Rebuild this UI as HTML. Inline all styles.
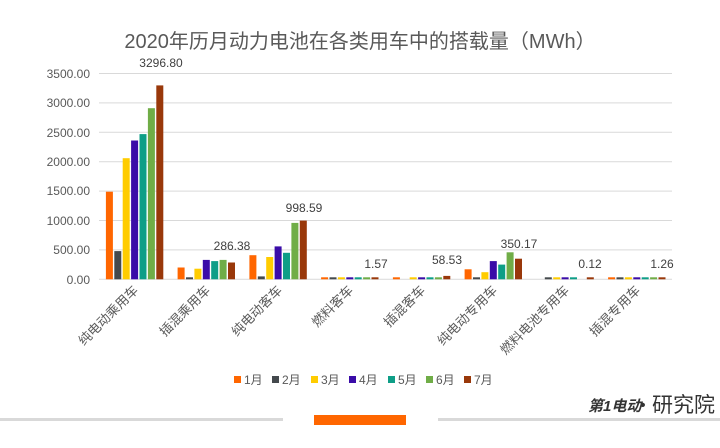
<!DOCTYPE html>
<html><head><meta charset="utf-8"><style>
body{margin:0;background:#fff;}
svg{display:block;font-family:"Liberation Sans","Noto Sans CJK SC",sans-serif;}
</style></head><body>
<svg width="720" height="448" viewBox="0 0 720 448" xmlns="http://www.w3.org/2000/svg">
<text x="360" y="48" text-anchor="middle" font-size="20" fill="#595959">2020年历月动力电池在各类用车中的搭载量（MWh）</text>
<g stroke="#d9d9d9" stroke-width="1">
<line x1="99" x2="672" y1="73.5" y2="73.5"/><line x1="99" x2="672" y1="102.9" y2="102.9"/>
<line x1="99" x2="672" y1="132.3" y2="132.3"/><line x1="99" x2="672" y1="161.7" y2="161.7"/>
<line x1="99" x2="672" y1="191.1" y2="191.1"/><line x1="99" x2="672" y1="220.5" y2="220.5"/>
<line x1="99" x2="672" y1="249.9" y2="249.9"/><line x1="99" x2="672" y1="279.3" y2="279.3"/>
</g>
<g font-size="12" fill="#595959" text-anchor="end">
<text x="90" y="78">3500.00</text><text x="90" y="107">3000.00</text><text x="90" y="137">2500.00</text>
<text x="90" y="166">2000.00</text><text x="90" y="195">1500.00</text><text x="90" y="225">1000.00</text>
<text x="90" y="254">500.00</text><text x="90" y="284">0.00</text>
</g>
<g>
<rect x="105.9" y="191.7" width="7" height="87.6" fill="#FF6600"/>
<rect x="114.3" y="251.1" width="7" height="28.2" fill="#44494D"/>
<rect x="122.7" y="158.2" width="7" height="121.1" fill="#FFCC00"/>
<rect x="131.1" y="140.5" width="7" height="138.8" fill="#3A0CA8"/>
<rect x="139.5" y="134.1" width="7" height="145.2" fill="#0E9E87"/>
<rect x="147.9" y="108.2" width="7" height="171.1" fill="#70AD47"/>
<rect x="156.3" y="85.4" width="7" height="193.9" fill="#99380A"/>

<rect x="177.6" y="267.5" width="7" height="11.8" fill="#FF6600"/>
<rect x="186" y="277.3" width="7" height="2" fill="#44494D"/>
<rect x="194.4" y="268.7" width="7" height="10.6" fill="#FFCC00"/>
<rect x="202.8" y="259.9" width="7" height="19.4" fill="#3A0CA8"/>
<rect x="211.2" y="261.1" width="7" height="18.2" fill="#0E9E87"/>
<rect x="219.6" y="259.9" width="7" height="19.4" fill="#70AD47"/>
<rect x="228" y="262.5" width="7" height="16.8" fill="#99380A"/>

<rect x="249.4" y="255.2" width="7" height="24.1" fill="#FF6600"/>
<rect x="257.8" y="276.4" width="7" height="2.9" fill="#44494D"/>
<rect x="266.2" y="257" width="7" height="22.3" fill="#FFCC00"/>
<rect x="274.6" y="246.4" width="7" height="32.9" fill="#3A0CA8"/>
<rect x="283" y="252.8" width="7" height="26.5" fill="#0E9E87"/>
<rect x="291.4" y="222.9" width="7" height="56.4" fill="#70AD47"/>
<rect x="299.8" y="220.6" width="7" height="58.7" fill="#99380A"/>

<rect x="321.1" y="277.3" width="7" height="2" fill="#FF6600"/>
<rect x="329.5" y="277.3" width="7" height="2" fill="#44494D"/>
<rect x="337.9" y="277.3" width="7" height="2" fill="#FFCC00"/>
<rect x="346.3" y="277.3" width="7" height="2" fill="#3A0CA8"/>
<rect x="354.7" y="277.3" width="7" height="2" fill="#0E9E87"/>
<rect x="363.1" y="277.3" width="7" height="2" fill="#70AD47"/>
<rect x="371.5" y="277.3" width="7" height="2" fill="#99380A"/>

<rect x="392.9" y="277.3" width="7" height="2" fill="#FF6600"/>
<rect x="409.7" y="277.3" width="7" height="2" fill="#FFCC00"/>
<rect x="418.1" y="277.3" width="7" height="2" fill="#3A0CA8"/>
<rect x="426.5" y="277.3" width="7" height="2" fill="#0E9E87"/>
<rect x="434.9" y="277.3" width="7" height="2" fill="#70AD47"/>
<rect x="443.3" y="275.9" width="7" height="3.4" fill="#99380A"/>

<rect x="464.6" y="269.3" width="7" height="10" fill="#FF6600"/>
<rect x="473" y="277.3" width="7" height="2" fill="#44494D"/>
<rect x="481.4" y="272.2" width="7" height="7.1" fill="#FFCC00"/>
<rect x="489.8" y="261.1" width="7" height="18.2" fill="#3A0CA8"/>
<rect x="498.2" y="264.6" width="7" height="14.7" fill="#0E9E87"/>
<rect x="506.6" y="252.3" width="7" height="27" fill="#70AD47"/>
<rect x="515" y="258.7" width="7" height="20.6" fill="#99380A"/>

<rect x="544.8" y="277.3" width="7" height="2" fill="#44494D"/>
<rect x="553.2" y="277.3" width="7" height="2" fill="#FFCC00"/>
<rect x="561.6" y="277.3" width="7" height="2" fill="#3A0CA8"/>
<rect x="570" y="277.3" width="7" height="2" fill="#0E9E87"/>
<rect x="586.8" y="277.3" width="7" height="2" fill="#99380A"/>

<rect x="608.1" y="277.3" width="7" height="2" fill="#FF6600"/>
<rect x="616.5" y="277.3" width="7" height="2" fill="#44494D"/>
<rect x="624.9" y="277.3" width="7" height="2" fill="#FFCC00"/>
<rect x="633.3" y="277.3" width="7" height="2" fill="#3A0CA8"/>
<rect x="641.7" y="277.3" width="7" height="2" fill="#0E9E87"/>
<rect x="650.1" y="277.3" width="7" height="2" fill="#70AD47"/>
<rect x="658.5" y="277.3" width="7" height="2" fill="#99380A"/>
</g>
<g font-size="12" fill="#404040" text-anchor="middle">
<text x="161" y="67">3296.80</text><text x="232" y="250">286.38</text><text x="304" y="212">998.59</text>
<text x="376" y="268">1.57</text><text x="447" y="264">58.53</text><text x="519" y="248">350.17</text>
<text x="590" y="268">0.12</text><text x="662" y="268">1.26</text>
</g>
<g font-size="13" fill="#595959" text-anchor="end">
<text transform="translate(139,291) rotate(-45)">纯电动乘用车</text>
<text transform="translate(211,291) rotate(-45)">插混乘用车</text>
<text transform="translate(283,291) rotate(-45)">纯电动客车</text>
<text transform="translate(354,291) rotate(-45)">燃料客车</text>
<text transform="translate(426,291) rotate(-45)">插混客车</text>
<text transform="translate(498,291) rotate(-45)">纯电动专用车</text>
<text transform="translate(570,291) rotate(-45)">燃料电池专用车</text>
<text transform="translate(641,291) rotate(-45)">插混专用车</text>
</g>
<g font-size="12" fill="#595959">
<rect x="234" y="376" width="7" height="7" fill="#FF6600"/><text x="244" y="384">1月</text>
<rect x="272" y="376" width="7" height="7" fill="#44494D"/><text x="282" y="384">2月</text>
<rect x="311" y="376" width="7" height="7" fill="#FFCC00"/><text x="321" y="384">3月</text>
<rect x="349" y="376" width="7" height="7" fill="#3A0CA8"/><text x="359" y="384">4月</text>
<rect x="388" y="376" width="7" height="7" fill="#0E9E87"/><text x="398" y="384">5月</text>
<rect x="426" y="376" width="7" height="7" fill="#70AD47"/><text x="436" y="384">6月</text>
<rect x="464" y="376" width="7" height="7" fill="#99380A"/><text x="474" y="384">7月</text>
</g>
<rect x="0" y="418" width="283" height="3" fill="#d9d9d9"/>
<rect x="314" y="415" width="92" height="10" fill="#FF6600"/>
<rect x="438" y="418" width="282" height="3" fill="#d9d9d9"/>
<text x="588" y="411" font-size="15" font-weight="bold" fill="#333" font-style="italic">第1电动</text>
<text x="640" y="410" font-size="16" fill="#333">•</text>
<text x="652" y="412" font-size="21" fill="#333">研究院</text>
</svg>
</body></html>
